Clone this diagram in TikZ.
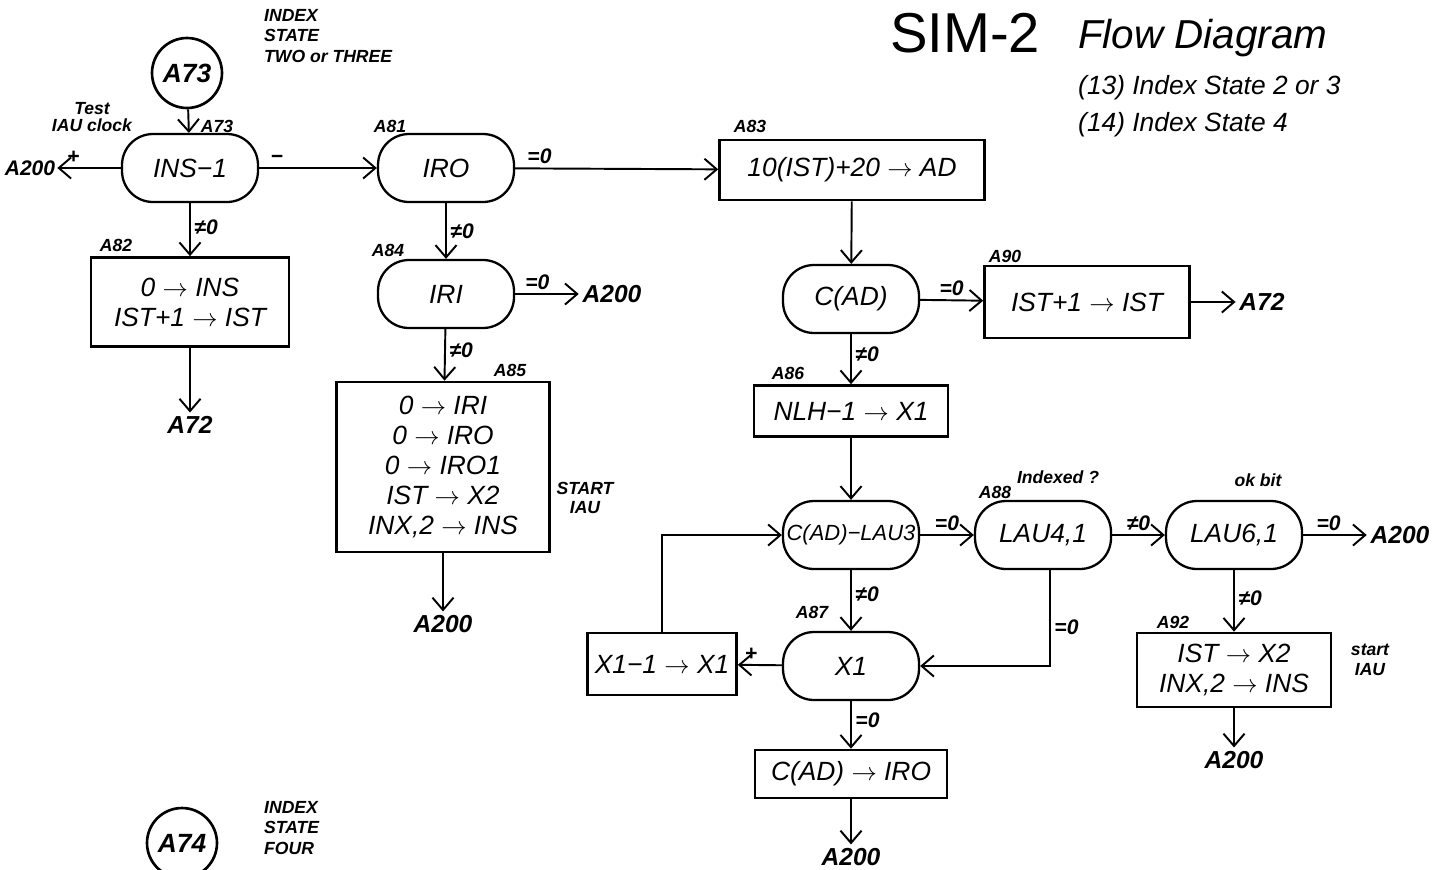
\documentclass[tikz,border=0pt]{standalone}
\usepackage{fontspec}
\setmainfont{Liberation Sans}
\usetikzlibrary{arrows.meta}
\newcommand{\hand}{\fontsize{15}{17}\selectfont\itshape}
\newcommand{\smallhand}{\fontsize{10}{11}\selectfont\itshape\bfseries}
\newcommand{\fl}{$\rightarrow$}
\tikzset{
  every node/.style={font=\hand},
  essai/.style={draw,line width=1.3pt,rounded corners=0.62cm,minimum width=2.72cm,minimum height=1.36cm,inner sep=1pt},
  bloc/.style={draw,line width=1.5pt,align=center,inner sep=3pt},
  rond/.style={circle,draw,line width=1.5pt,minimum size=1.4cm,inner sep=0pt,font=\fontsize{15}{17}\selectfont\itshape\bfseries},
  sortie/.style={inner sep=2pt,font=\fontsize{14}{16}\selectfont\itshape\bfseries},
  cond/.style={inner sep=2pt,font=\fontsize{12}{14}\selectfont\itshape\bfseries},
  repere/.style={inner sep=0pt,font=\smallhand},
  fleche/.style={line width=1.1pt,-{Straight Barb[length=7pt,width=12pt,line width=1.1pt]}}
}
\begin{document}
\begin{tikzpicture}[x=0.02cm,y=-0.02cm]
  \useasboundingbox[fill=white] (0,0) rectangle (1432,869);
  % titre
  \node[font=\fontsize{32}{36}\selectfont] (titre) at (965,33) {SIM-2};
  \node[anchor=west,font=\fontsize{23}{26}\selectfont\itshape] (nom) at (1072,38) {Flow Diagram};
  \node[anchor=west] (l13) at (1072,88) {(13) Index State 2 or 3};
  \node[anchor=west] (l14) at (1072,125) {(14) Index State 4};
  % etat deux ou trois
  \node[rond] (a73) at (187,73) {A73};
  \node[anchor=west,align=left,font=\fontsize{10}{11.5}\selectfont\itshape\bfseries] (etat23) at (258,36) {INDEX\\STATE\\TWO or THREE};
  \node[align=center,font=\fontsize{10}{9.5}\selectfont\itshape\bfseries] (test) at (92,117) {Test\\IAU clock};
  \node[essai] (ins) at (190,168) {INS−1};
  \node[repere] at (217,126) {A73};
  \node[sortie,font=\fontsize{12}{14}\selectfont\itshape\bfseries,inner sep=1pt] (x200a) at (30,168) {A200};
  \node[bloc,minimum width=3.96cm,minimum height=1.78cm] (a82) at (190,302) {0 \fl{} INS\\IST+1 \fl{} IST};
  \node[repere] at (116,245) {A82};
  \node[sortie] (x72a) at (190,425) {A72};
  \node[essai] (iro) at (446,168) {IRO};
  \node[repere] at (390,126) {A81};
  \node[essai] (iri) at (446,294) {IRI};
  \node[repere] at (388,250) {A84};
  \node[sortie] (x200b) at (612,294) {A200};
  \node[bloc,minimum width=4.26cm,minimum height=3.4cm] (a85) at (443,467) {0 \fl{} IRI\\0 \fl{} IRO\\0 \fl{} IRO1\\IST \fl{} X2\\INX,2 \fl{} INS};
  \node[repere] at (510,370) {A85};
  \node[align=center,font=\smallhand] (start1) at (585,498) {START\\IAU};
  \node[sortie] (x200c) at (443,624) {A200};
  \node[bloc,minimum width=5.3cm,minimum height=1.2cm] (a83) at (852,170) {10(IST)+20 \fl{} AD};
  \node[repere] at (750,126) {A83};
  \node[essai] (cad) at (851,299) {C(AD)};
  \node[bloc,minimum width=4.1cm,minimum height=1.44cm] (a90) at (1087,302) {IST+1 \fl{} IST};
  \node[repere] at (1005,256) {A90};
  \node[sortie] (x72b) at (1262,302) {A72};
  \node[bloc,minimum width=3.88cm,minimum height=1.02cm] (a86) at (851,411) {NLH−1 \fl{} X1};
  \node[repere] at (788,373) {A86};
  \node[essai,font=\fontsize{12.5}{15}\selectfont\itshape] (lau3) at (851,535) {C(AD)−LAU3};
  \node[essai] (lau4) at (1043,535) {LAU4,1};
  \node[repere] at (995,492) {A88};
  \node[repere] at (1058,477) {Indexed ?};
  \node[essai] (lau6) at (1234,535) {LAU6,1};
  \node[repere] at (1258,480) {ok bit};
  \node[sortie] (x200d) at (1400,535) {A200};
  \node[bloc,minimum width=3.88cm,minimum height=1.48cm] (a92) at (1234,670) {IST \fl{} X2\\INX,2 \fl{} INS};
  \node[repere] at (1173,622) {A92};
  \node[align=center,font=\smallhand] (start2) at (1370,660) {start\\IAU};
  \node[sortie] (x200e) at (1234,760) {A200};
  \node[essai] (x1) at (851,666) {X1};
  \node[repere] at (812,612) {A87};
  \node[bloc,minimum width=2.98cm,minimum height=1.24cm] (dec) at (662,664) {X1−1 \fl{} X1};
  \node[bloc,minimum width=3.84cm,minimum height=0.96cm] (a89) at (851,774) {C(AD) \fl{} IRO};
  \node[sortie] (x200f) at (851,857) {A200};
  % etat quatre
  \node[rond] (a74) at (182,843) {A74};
  \node[anchor=west,align=left,font=\fontsize{10}{11.5}\selectfont\itshape\bfseries] (etat4) at (258,828) {INDEX\\STATE\\FOUR};
  % liaisons
  \draw[fleche] (a73) -- (ins);
  \draw[fleche] (ins) -- node[cond,above,pos=0.75]{+} (x200a);
  \draw[fleche] (ins) -- node[cond,above,pos=0.15]{−} (iro);
  \draw[fleche] (ins) -- node[cond,right,pos=0.45]{≠0} (a82);
  \draw[fleche] (a82) -- (x72a);
  \draw[fleche] (iro) -- node[cond,above,pos=0.12]{=0} (a83);
  \draw[fleche] (iro) -- node[cond,right]{≠0} (iri);
  \draw[fleche] (iri) -- node[cond,above,pos=0.35]{=0} (x200b);
  \draw[fleche] (iri) -- node[cond,right,pos=0.4]{≠0} (a85);
  \draw[fleche] (a85) -- (x200c);
  \draw[fleche] (a83) -- (cad);
  \draw[fleche] (cad) -- node[cond,above]{=0} (a90);
  \draw[fleche] (a90) -- (x72b);
  \draw[fleche] (cad) -- node[cond,right,pos=0.4]{≠0} (a86);
  \draw[fleche] (a86) -- (lau3);
  \draw[fleche] (lau3) -- node[cond,above]{=0} (lau4);
  \draw[fleche] (lau4) -- node[cond,above]{≠0} (lau6);
  \draw[fleche] (lau6) -- node[cond,above,pos=0.4]{=0} (x200d);
  \draw[fleche] (lau6) -- node[cond,right,pos=0.45]{≠0} (a92);
  \draw[fleche] (a92) -- (x200e);
  \draw[fleche] (lau3) -- node[cond,right,pos=0.4]{≠0} (x1);
  \draw[fleche] ([xshift=0.14cm]lau4.south) |- node[cond,right,pos=0.3]{=0} (x1.east);
  \draw[fleche] (x1) -- node[cond,above,pos=0.7]{+} (dec);
  \draw[fleche] (dec.north) |- (lau3.west);
  \draw[fleche] (x1) -- node[cond,right,pos=0.4]{=0} (a89);
  \draw[fleche] (a89) -- (x200f);
\end{tikzpicture}
\end{document}
